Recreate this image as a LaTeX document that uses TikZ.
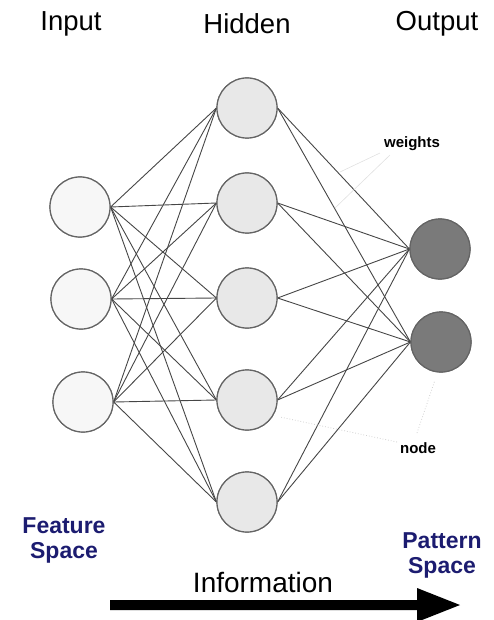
\documentclass[tikz,border=0pt]{standalone}
\usepackage{fontspec}
\setmainfont{Liberation Sans}
\definecolor{navy}{RGB}{28,28,112}
\definecolor{edgegray}{RGB}{70,70,70}
\definecolor{rimgray}{RGB}{100,100,100}
\definecolor{infill}{RGB}{247,247,247}
\definecolor{hidfill}{RGB}{232,232,232}
\definecolor{outfill}{RGB}{122,122,122}
\begin{document}
\begin{tikzpicture}[x=1pt,y=-1pt,
  neuron/.style={circle,draw=rimgray,line width=1.2pt,minimum size=60pt,inner sep=0pt},
  innode/.style={neuron,fill=infill},
  hidnode/.style={neuron,fill=hidfill},
  outnode/.style={neuron,fill=outfill},
  weight/.style={draw=edgegray,line width=0.9pt},
  pointer/.style={draw=black!12,line width=0.6pt},
  dotpointer/.style={draw=black!18,line width=0.8pt,dotted},
  layertitle/.style={font=\fontsize{27.5}{30}\selectfont},
  tag/.style={font=\bfseries\fontsize{15}{17}\selectfont},
  spacetitle/.style={font=\bfseries\fontsize{23}{25}\selectfont,text=navy,align=center}]
\useasboundingbox (0,0) rectangle (493,620);

% layer titles
\node[layertitle] (tin)  at (71,24)  {Input};
\node[layertitle] (thid) at (247,24) {Hidden};
\node[layertitle] (tout) at (437,24) {Output};

% neurons (placed first so the weights can use their anchors)
\node[innode] (i1) at (80,207) {};
\node[innode] (i2) at (81,299) {};
\node[innode] (i3) at (83,402) {};
\foreach \k/\yy in {1/108,2/203,3/298,4/400,5/502}
  \node[hidnode] (h\k) at (247,\yy) {};
\node[outnode] (o1) at (440,249) {};
\node[outnode] (o2) at (441,342) {};

% weights: every neuron feeds every neuron of the next layer
\foreach \a in {1,2,3}
  \foreach \b in {1,...,5}
    \draw[weight] (i\a.east) -- (h\b.west);
\foreach \b in {1,...,5}
  \foreach \c in {1,2}
    \draw[weight] (h\b.east) -- (o\c.west);

% redraw neurons on top of the weights
\node[innode] at (i1) {};
\node[innode] at (i2) {};
\node[innode] at (i3) {};
\foreach \k in {1,...,5}
  \node[hidnode] at (h\k) {};
\node[outnode] at (o1) {};
\node[outnode] at (o2) {};

% annotations
\node[tag] (wlab) at (412,144) {weights};
\node[tag] (nlab) at (418,448) {node};
\coordinate (wp1) at (335,208);
\coordinate (wp2) at (340,172);
\draw[pointer] (390,155) -- (wp1);
\draw[pointer] (380,153) -- (wp2);
\coordinate (np1) at (280,417);
\coordinate (np2) at (435,380);
\draw[dotpointer] (397,442) -- (np1);
\draw[dotpointer] (417,433) -- (np2);

% spaces
\node[spacetitle] (feat) at (64,540) {Feature\\Space};
\node[spacetitle] (patt) at (442,555) {Pattern\\Space};

% information flow
\node[font=\fontsize{28}{30}\selectfont] (info) at (263,582) {Information};
\coordinate (arre) at (460,605);
\fill[black] (110,600) -- (417,600) -- (417,588) -- (arre) -- (417,622) -- (417,610) -- (110,610) -- cycle;
\end{tikzpicture}
\end{document}
